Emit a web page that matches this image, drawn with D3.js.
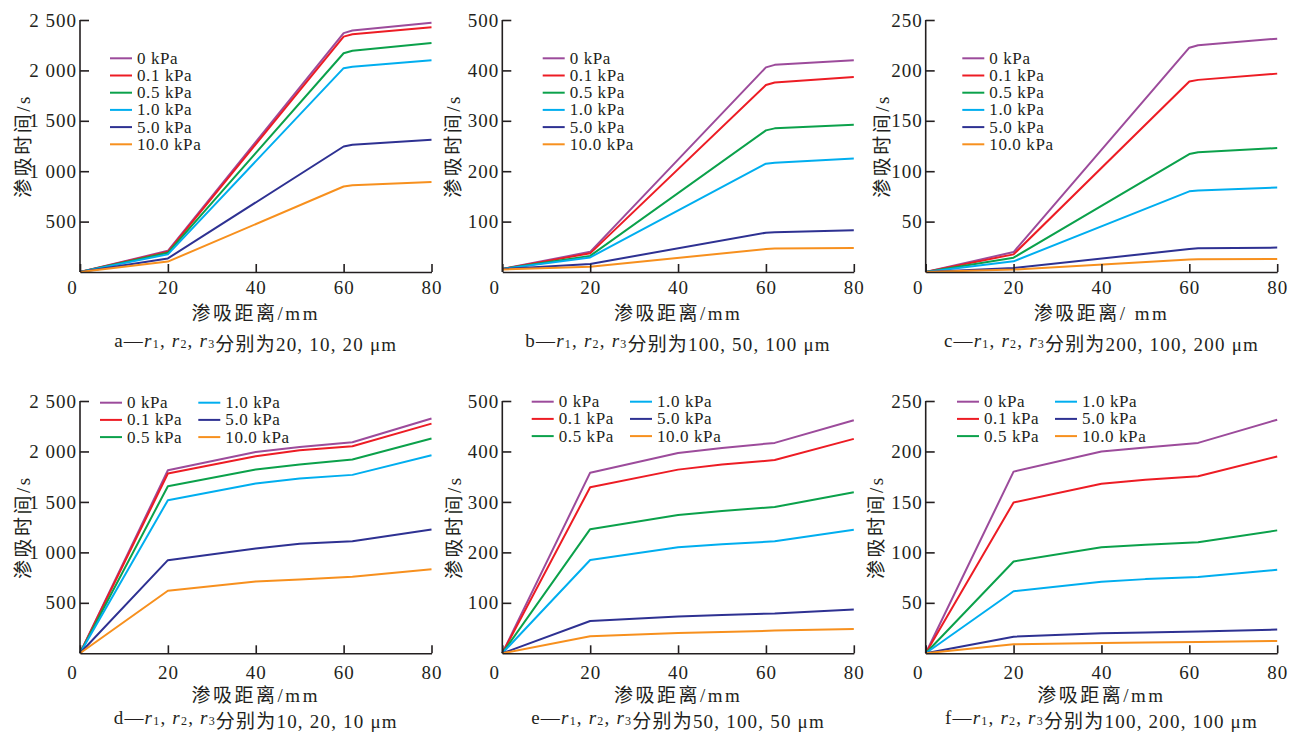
<!DOCTYPE html>
<html>
<head>
<meta charset="utf-8">
<script src="https://cdn.jsdelivr.net/npm/d3@7"></script>
<style>
  body { margin: 0; background: #fff; }
  svg { display: block; }
</style>
</head>
<body>
<svg id="chart"></svg>
<script>
// pressure series shared by all six panels
const pressures = ["0 kPa", "0.1 kPa", "0.5 kPa", "1.0 kPa", "5.0 kPa", "10.0 kPa"];
const colors = ["#9c4b9b", "#ed1c24", "#0ba14b", "#00aeef", "#2e3192", "#f7901e"];

const xTicks = [0, 20, 40, 60, 80];
// distance (mm) at which values were read, top row / bottom row
const distTop = [0, 20, 60, 62, 80];
const distBottom = [0, 20, 40, 50, 62, 80];

const ticks2500 = [500, 1000, 1500, 2000, 2500];
const ticks500 = [100, 200, 300, 400, 500];
const ticks250 = [50, 100, 150, 200, 250];

// imbibition time (s), one row per pressure
const timeA = [
  [0, 210, 2370, 2395, 2472],
  [0, 200, 2335, 2358, 2428],
  [0, 190, 2170, 2195, 2272],
  [0, 175, 2022, 2036, 2100],
  [0, 135, 1245, 1262, 1312],
  [0, 103, 848, 860, 894],
];
const timeB = [
  [6, 40, 406, 411, 420],
  [6, 37, 371, 376, 387],
  [6, 32, 281, 285, 292],
  [6, 29, 215, 217, 225],
  [6, 16, 78, 79, 83],
  [5, 10.5, 45.5, 46.5, 47.5],
];
const timeC = [
  [0, 19.8, 222.5, 225, 231.5],
  [0, 17.5, 189, 190.6, 196.8],
  [0, 14.2, 117, 118.7, 123],
  [0, 10.6, 80, 80.8, 83.8],
  [0, 4, 22.7, 23.6, 24.2],
  [0, 2.4, 12.3, 12.6, 12.9],
];
const timeD = [
  [0, 1814, 1995, 2045, 2091, 2326],
  [0, 1781, 1953, 2012, 2052, 2276],
  [0, 1656, 1821, 1871, 1920, 2128],
  [0, 1517, 1683, 1732, 1768, 1963],
  [0, 923, 1039, 1085, 1111, 1227],
  [0, 620, 712, 732, 758, 834],
];
const timeE = [
  [0, 358, 397, 407, 417, 462],
  [0, 329, 364, 374, 383, 425],
  [0, 246, 274, 282, 290, 319],
  [0, 185, 210, 216, 222, 245],
  [0, 64, 73, 76, 79, 87],
  [0, 34, 40, 42, 45, 48],
];
const timeF = [
  [0, 180, 200, 204, 208.5, 231.5],
  [0, 149.5, 168, 172, 175.5, 195],
  [0, 91, 105, 107.5, 110, 121.8],
  [0, 61.5, 70.8, 73.5, 75.5, 82.8],
  [0, 16.5, 19.9, 20.7, 21.5, 23.5],
  [0, 8.9, 10.2, 10.7, 11.2, 12.2],
];

// pore radii r1, r2, r3 (um) for captions
const radiiA = [20, 10, 20];
const radiiB = [100, 50, 100];
const radiiC = [200, 100, 200];
const radiiD = [10, 20, 10];
const radiiE = [50, 100, 50];
const radiiF = [100, 200, 100];

const xTitle = "渗吸距离/mm";
const yTitle = "渗吸时间/s";

// ---- layout ----
const width = 1289;
const height = 733;
const ink = "#231f20";
const serif = "'Liberation Serif', 'Times New Roman', 'Noto Sans CJK SC', serif";
const colLeft = [80, 502.3, 925.7];
const plotW = 351.5;
const rows = [
  { top: 20, bottom: 272, tickY: 15, titleY: 313, capY: 340 },
  { top: 401, bottom: 653.3, tickY: 19.4, titleY: 695, capY: 716.5 },
];

const panels = [
  { tag: "a", row: 0, col: 0, dist: distTop, time: timeA, ticks: ticks2500, radii: radiiA, yTitleOff: 57, legend: { x: 30, y: 58.3, cols: 1 } },
  { tag: "b", row: 0, col: 1, dist: distTop, time: timeB, ticks: ticks500, radii: radiiB, yTitleOff: 49, legend: { x: 40.4, y: 58.3, cols: 1 } },
  { tag: "c", row: 0, col: 2, dist: distTop, time: timeC, ticks: ticks250, radii: radiiC, yTitleOff: 43, legend: { x: 36.6, y: 58.3, cols: 1 } },
  { tag: "d", row: 1, col: 0, dist: distBottom, time: timeD, ticks: ticks2500, radii: radiiD, yTitleOff: 57, legend: { x: 20, y: 402.7, cols: 2, dx: 98.3 } },
  { tag: "e", row: 1, col: 1, dist: distBottom, time: timeE, ticks: ticks500, radii: radiiE, yTitleOff: 48, legend: { x: 29.4, y: 401.7, cols: 2, dx: 98.3 } },
  { tag: "f", row: 1, col: 2, dist: distBottom, time: timeF, ticks: ticks250, radii: radiiF, yTitleOff: 49, legend: { x: 31.3, y: 401.7, cols: 2, dx: 98 } },
];

const fmt = d3.formatLocale({ decimal: ".", thousands: " ", grouping: [3], currency: ["", ""] }).format(",");

const svg = d3.select("#chart").attr("width", width).attr("height", height)
  .attr("viewBox", `0 0 ${width} ${height}`);
svg.append("rect").attr("width", width).attr("height", height).attr("fill", "#fff");

panels.forEach((p) => {
  const r = rows[p.row];
  const left = colLeft[p.col];
  const x = d3.scaleLinear([0, 80], [left, left + plotW]);
  const y = d3.scaleLinear([0, d3.max(p.ticks)], [r.bottom, r.top]);

  const g = svg.append("g").attr("class", `panel-${p.tag}`);

  // lines
  const line = d3.line().x((d) => x(d[0])).y((d) => y(d[1]));
  p.time.forEach((vals, i) => {
    g.append("path")
      .datum(p.dist.map((dd, j) => [dd, vals[j]]))
      .attr("fill", "none")
      .attr("stroke", colors[i])
      .attr("stroke-width", 2)
      .attr("stroke-linejoin", "round")
      .attr("d", line);
  });

  // y axis
  const yAxis = g.append("g")
    .attr("transform", `translate(${left},0)`)
    .call(d3.axisLeft(y).tickValues(p.ticks).tickFormat(fmt).tickSizeInner(-9).tickSizeOuter(0).tickPadding(3));
  yAxis.select(".domain").attr("d", `M0,${r.bottom}V${r.top}`);

  // x axis
  const xAxis = g.append("g")
    .attr("transform", `translate(0,${r.bottom})`)
    .call(d3.axisBottom(x).tickValues(xTicks).tickSizeInner(-8).tickSizeOuter(0));
  xAxis.selectAll(".tick text")
    .attr("y", r.tickY)
    .attr("dy", "0.35em")
    .attr("dx", (d) => (d === 0 ? -8 : 0));

  [yAxis, xAxis].forEach((ax) => {
    ax.attr("font-family", null).attr("font-size", null);
    ax.select(".domain").attr("stroke", ink).attr("stroke-width", 1.6);
    ax.selectAll(".tick line").attr("stroke", ink).attr("stroke-width", 1.6);
    ax.selectAll(".tick text")
      .attr("fill", ink)
      .style("font-family", serif)
      .style("font-size", "19px")
      .style("letter-spacing", "1px");
  });

  // axis titles
  const cx = left + plotW / 2;
  g.append("text")
    .attr("x", cx)
    .attr("y", r.titleY)
    .attr("dominant-baseline", "central")
    .attr("text-anchor", "middle")
    .attr("fill", ink)
    .style("font-family", serif)
    .style("font-size", "19px")
    .style("letter-spacing", "2.5px")
    .text(p.tag === "c" ? "渗吸距离/ mm" : xTitle);

  g.append("text")
    .attr("transform", `translate(${left - p.yTitleOff},${(r.top + r.bottom) / 2}) rotate(-90)`)
    .attr("dominant-baseline", "central")
    .attr("text-anchor", "middle")
    .attr("fill", ink)
    .style("font-family", serif)
    .style("font-size", "19px")
    .style("letter-spacing", "2.5px")
    .text(yTitle);

  // caption: "a—r1, r2, r3分别为20, 10, 20 μm"
  const cap = g.append("text")
    .attr("x", cx)
    .attr("y", r.capY)
    .attr("dominant-baseline", "central")
    .attr("text-anchor", "middle")
    .attr("fill", ink)
    .style("font-family", serif)
    .style("font-size", "19px")
    .style("letter-spacing", "1.2px");
  cap.append("tspan").text(`${p.tag}—`);
  [1, 2, 3].forEach((k) => {
    cap.append("tspan").style("font-style", "italic").text("r");
    cap.append("tspan").attr("dy", 4).style("font-size", "12px").text(k);
    cap.append("tspan").attr("dy", -4).text(k < 3 ? ", " : "");
  });
  cap.append("tspan").text("分别为");
  cap.append("tspan").text(`${p.radii.join(", ")} μm`);

  // legend
  const lg = p.legend;
  const perCol = lg.cols === 1 ? 6 : 3;
  pressures.forEach((name, i) => {
    const c = Math.floor(i / perCol);
    const k = i % perCol;
    const lx = left + lg.x + c * (lg.dx || 0);
    const ly = lg.y + k * 17.2;
    g.append("line")
      .attr("x1", lx).attr("x2", lx + 22)
      .attr("y1", ly).attr("y2", ly)
      .attr("stroke", colors[i])
      .attr("stroke-width", 2);
    g.append("text")
      .attr("x", lx + 27)
      .attr("y", ly)
      .attr("dominant-baseline", "central")
      .attr("fill", ink)
      .style("font-family", serif)
      .style("font-size", "17px")
      .style("letter-spacing", "0.6px")
      .text(name);
  });
});
</script>
</body>
</html>
